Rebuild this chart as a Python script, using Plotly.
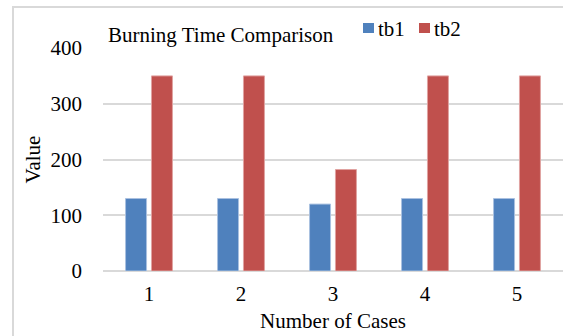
import plotly.graph_objects as go

cases = ["1", "2", "3", "4", "5"]
tb1 = [130, 130, 120, 130, 130]
tb2 = [350, 350, 182, 350, 350]
y_ticks = [0, 100, 200, 300, 400]

W, H = 563, 336
L, R, T, B = 103, 0, 48, 65
pw, ph = W - L - R, H - T - B

def px(x):
    return (x - L) / pw

def py(y):
    return (H - B - y) / ph

FONT = "Liberation Serif, Times New Roman, serif"
FS = 21
BLUE = "#4F81BD"
RED = "#C0504D"

fig = go.Figure()
fig.add_trace(go.Bar(x=cases, y=tb1, name="tb1", marker=dict(color=BLUE, line=dict(color="#a9c1e0", width=1))))
fig.add_trace(go.Bar(x=cases, y=tb2, name="tb2", marker=dict(color=RED, line=dict(color="#e0a3a1", width=1))))

shapes = [
    dict(type="rect", xref="paper", yref="paper", x0=px(13), x1=px(600), y0=py(7), y1=py(400),
         line=dict(color="#d9d9d9", width=2), fillcolor="rgba(0,0,0,0)", layer="below"),
    dict(type="rect", xref="paper", yref="paper", x0=px(363), x1=px(374), y0=py(23), y1=py(33),
         line=dict(width=0), fillcolor=BLUE),
    dict(type="rect", xref="paper", yref="paper", x0=px(419), x1=px(430), y0=py(23), y1=py(33),
         line=dict(width=0), fillcolor=RED),
]

annotations = [
    dict(text="Burning Time Comparison", xref="paper", yref="paper", x=px(106), y=py(35),
         xanchor="left", yanchor="middle", showarrow=False, font=dict(family=FONT, size=FS, color="#000")),
    dict(text="tb1", xref="paper", yref="paper", x=px(376), y=py(29),
         xanchor="left", yanchor="middle", showarrow=False, font=dict(family=FONT, size=FS, color="#000")),
    dict(text="tb2", xref="paper", yref="paper", x=px(432), y=py(29),
         xanchor="left", yanchor="middle", showarrow=False, font=dict(family=FONT, size=FS, color="#000")),
]

fig.update_layout(
    width=W, height=H,
    margin=dict(l=L, r=R, t=T, b=B, pad=0),
    paper_bgcolor="white", plot_bgcolor="white",
    showlegend=False,
    bargap=0.437, bargroupgap=0.19,
    font=dict(family=FONT, size=FS, color="#000"),
    shapes=shapes, annotations=annotations,
    xaxis=dict(title=dict(text="Number of Cases", font=dict(family=FONT, size=FS), standoff=8),
               tickfont=dict(family=FONT, size=FS), showgrid=False, showline=False, ticks="",
               ticklabelstandoff=8),
    yaxis=dict(title=dict(text="Value", font=dict(family=FONT, size=FS), standoff=4),
               range=[0, 400], tickvals=y_ticks, tickfont=dict(family=FONT, size=FS),
               showgrid=True, gridcolor="#d9d9d9", gridwidth=1.5, zeroline=True, zerolinecolor="#d9d9d9",
               zerolinewidth=1.5, showline=False, ticks="", ticklabelstandoff=20),
)

fig.write_html("out.html")
